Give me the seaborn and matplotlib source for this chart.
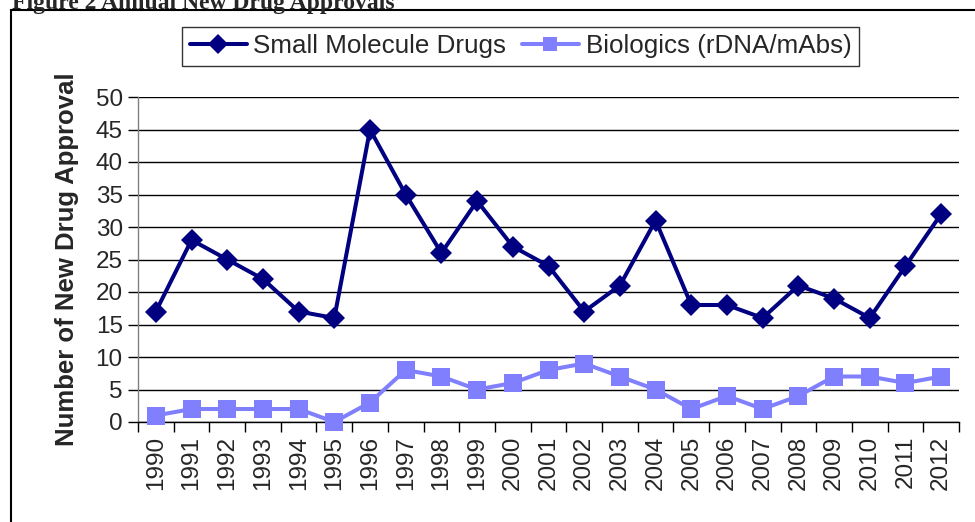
import matplotlib
matplotlib.use("Agg")
import matplotlib.pyplot as plt
import seaborn as sns
import pandas as pd
import numpy as np
from matplotlib.patches import Rectangle
from matplotlib.lines import Line2D

years = [str(y) for y in range(1990, 2013)]
small_molecule = [17, 28, 25, 22, 17, 16, 45, 35, 26, 34, 27, 24, 17, 21, 31, 18, 18, 16, 21, 19, 16, 24, 32]
biologics = [1, 2, 2, 2, 2, 0, 3, 8, 7, 5, 6, 8, 9, 7, 5, 2, 4, 2, 4, 7, 7, 6, 7]
series_names = ["Small Molecule Drugs", "Biologics (rDNA/mAbs)"]
colors = {"Small Molecule Drugs": "#000080", "Biologics (rDNA/mAbs)": "#8080FF"}
markers = {"Small Molecule Drugs": "D", "Biologics (rDNA/mAbs)": "s"}
msizes = {"D": 11.5, "s": 13}

df = pd.DataFrame({
    "idx": list(range(len(years))) * 2,
    "value": small_molecule + biologics,
    "series": [series_names[0]] * len(years) + [series_names[1]] * len(years),
})

sns.set_style("white")
plt.rcParams["font.family"] = ["Liberation Sans", "DejaVu Sans"]

fig = plt.figure(figsize=(9.75, 5.22), dpi=100)
ax = fig.add_axes([138 / 975, 1 - 422 / 522, 821 / 975, 325 / 522])

sns.lineplot(data=df, x="idx", y="value", hue="series", style="series",
             palette=colors, markers=markers, dashes=False, lw=2.9,
             markersize=12, markeredgewidth=0, ax=ax, legend=False, zorder=3)
for line in ax.get_lines():
    m = line.get_marker()
    if m in msizes:
        line.set_markersize(msizes[m])
        line.set_clip_on(False)

ax.set_xlim(-0.5, len(years) - 0.5)
ax.set_ylim(0, 50)
ax.set_yticks(np.arange(0, 51, 5))
ax.yaxis.grid(True, color="black", lw=1.0)
ax.set_axisbelow(True)
for s in ["top", "right"]:
    ax.spines[s].set_visible(False)
ax.spines["left"].set_color("#808080")
ax.spines["left"].set_linewidth(1.0)
ax.spines["bottom"].set_color("black")
ax.spines["bottom"].set_linewidth(1.0)

ax.set_xticks(np.arange(-0.5, len(years), 1.0))
ax.set_xticklabels([])
ax.set_xticks(np.arange(len(years)), minor=True)
ax.set_xticklabels(years, minor=True, rotation=90, fontsize=17.5)
ax.tick_params(axis="x", which="major", length=7, width=1, color="black", direction="out", bottom=True)
ax.tick_params(axis="x", which="minor", length=0, pad=10)
ax.tick_params(axis="y", length=7, width=1, color="black", direction="out", left=True, labelsize=17.5, pad=4)
ax.set_xlabel("")
ax.set_ylabel("Number of New Drug Approval", fontsize=18.5, fontweight="bold", labelpad=12)

handles = [Line2D([], [], color=colors[n], marker=markers[n], lw=2.9,
                  markersize=(10 if markers[n] == "D" else 10.5), markeredgewidth=0)
           for n in series_names]
leg = fig.legend(handles, series_names, loc="center", bbox_to_anchor=(520.5 / 975, 1 - 46.5 / 522),
                 ncol=2, fontsize=18.7, frameon=True, fancybox=False, edgecolor="black",
                 handlelength=2.2, handletextpad=0.25, columnspacing=0.6, borderpad=0.3)
leg.get_frame().set_linewidth(1.0)

fig.patches.append(Rectangle((11 / 975, -0.1), 1.2, 1.1 - 10 / 522, transform=fig.transFigure,
                             fill=False, edgecolor="black", lw=1.5, clip_on=False))
fig.text(12 / 975, 1 - 9 / 522, "Figure 2 Annual New Drug Approvals", fontsize=17, fontweight="bold",
         family=["Liberation Serif", "DejaVu Serif"], va="baseline", ha="left")

fig.savefig("out.png", dpi=100)
